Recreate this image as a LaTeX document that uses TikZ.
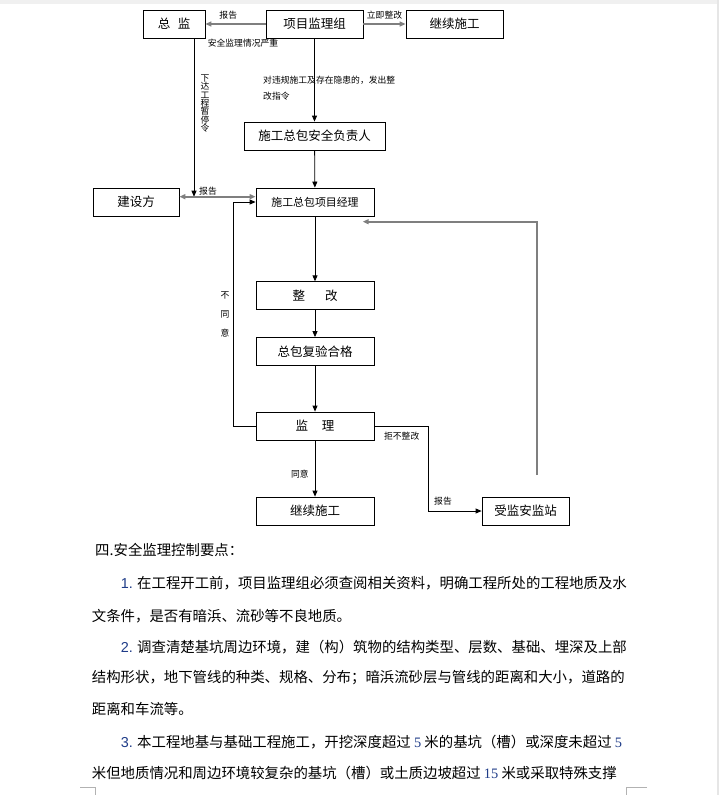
\documentclass[tikz,border=0pt]{standalone}
\usepackage{fontspec}
\newfontfamily\cjk{Noto Sans CJK SC}
\newfontfamily\numsans{Liberation Sans}
\newfontfamily\numserif{Liberation Serif}
\usetikzlibrary{arrows.meta,calc}
\usepackage{xcolor}
\definecolor{linegray}{HTML}{7F7F7F}
\definecolor{numblue}{HTML}{1F3C88}
\definecolor{pagegray}{HTML}{E6E6E6}

\begin{document}
\begin{tikzpicture}[x=1pt, y=-1pt, >={Triangle[length=6pt,width=5pt]},
    box/.style={draw, line width=0.8pt, inner sep=0pt, minimum height=28pt,
                font=\cjk\fontsize{12.5}{14}\selectfont},
    lbl/.style={inner sep=0pt, font=\cjk\fontsize{8.8}{10}\selectfont},
    conn/.style={line width=0.8pt, ->},
    gconn/.style={draw=linegray, line width=1.6pt, ->},
    body/.style={anchor=west, inner sep=0pt, font=\cjk\fontsize{14.4}{16}\selectfont}
  ]
  \useasboundingbox (0,0) rectangle (719,795);
  \fill[pagegray!60] (0,0) rectangle (719,4);
  \fill[pagegray] (716.5,0) rectangle (719,795);
  \draw[gray!60, line width=0.6pt] (80,787) -- (95,787) -- (95,795);
  \draw[gray!60, line width=0.6pt] (647,787) -- (626,787) -- (626,795);

  \node[box, minimum width=62pt] (zongjian) at (174,24) {总\hspace{0.6em}监};
  \node[box, minimum width=97pt] (xmjlz) at (314.5,24) {项目监理组};
  \node[box, minimum width=97pt] (jxsg1) at (454.5,24) {继续施工};
  \node[box, minimum width=141pt] (aqfzr) at (314.5,136) {施工总包安全负责人};
  \node[box, minimum width=86pt] (jsf) at (136,202) {建设方};
  \node[box, minimum width=118pt, font=\cjk\fontsize{10.9}{12}\selectfont] (xmjl) at (315,202) {施工总包项目经理};
  \node[box, minimum width=118pt, minimum height=27.5pt] (zhenggai) at (315,295.5) {整\hspace{1.6em}改};
  \node[box, minimum width=118pt] (fuyan) at (315,351.5) {总包复验合格};
  \node[box, minimum width=118pt] (jianli) at (315,426) {监\hspace{1.1em}理};
  \node[box, minimum width=118pt] (jxsg2) at (315,511) {继续施工};
  \node[box, minimum width=87pt] (ajz) at (525.5,511) {受监安监站};

  \coordinate (zjdown) at (194,196.7);
  \coordinate (ajzup) at (536.7,475);
  \coordinate (xmjlin) at (362.7,221.7);

  \draw[gconn] (xmjlz) -- (zongjian) node[lbl, pos=0.62, above=4pt] {报告};
  \draw[gconn] (xmjlz) -- (jxsg1) node[lbl, midway, above=4pt] {立即整改};
  \draw[conn] (zongjian.south -| zjdown) -- (zjdown);
  \draw[gconn, <->] ([yshift=5.3pt]jsf.east) -- ([yshift=5.3pt]xmjl.west);
  \draw[conn] (xmjlz) -- (aqfzr);
  \draw[conn] (aqfzr) -- (xmjl);
  \draw[conn] (xmjl) -- (zhenggai);
  \draw[conn] (zhenggai) -- (fuyan);
  \draw[conn] (fuyan) -- (jianli);
  \draw[conn] (jianli) -- (jxsg2) node[lbl, pos=0.6, left=6pt] {同意};
  \draw[conn] (jianli.west) -- ++(-22.4,0) |- (xmjl.west);
  \draw[conn] (jianli.east) -- ++(53.7,0) |- (ajz.west);
  \draw[gconn] (ajzup) |- (xmjlin);

  \node[lbl] (lbgjsf) at (208,191) {报告};
  \node[lbl] (lqkyz) at (243,43) {安全监理情况严重};
  \node[lbl, align=center, font=\cjk\fontsize{8.8}{8.3}\selectfont] (lztl) at (205,103.5)
    {下\\达\\工\\程\\暂\\停\\令};
  \node[lbl, anchor=west, align=left, font=\cjk\fontsize{8.8}{16}\selectfont] (lzgzl) at (263,88)
    {对违规施工及存在隐患的，发出整\\改指令};
  \node[lbl, align=center, font=\cjk\fontsize{8.8}{19}\selectfont] (lbty) at (225,314)
    {不\\同\\意};
  \node[lbl] (ljbzg) at (401.7,436) {拒不整改};
  \node[lbl] (lbgajz) at (443,501) {报告};

  \node[body] (t0) at (95,550) {四.安全监理控制要点：};
  \node[body] (t1) at (120.7,583) {{\numsans\color{numblue}1.} 在工程开工前，项目监理组必须查阅相关资料，明确工程所处的工程地质及水};
  \node[body] (t2) at (91.7,616) {文条件，是否有暗浜、流砂等不良地质。};
  \node[body] (t3) at (120.7,647) {{\numsans\color{numblue}2.} 调查清楚基坑周边环境，建（构）筑物的结构类型、层数、基础、埋深及上部};
  \node[body] (t4) at (91.7,678) {结构形状，地下管线的种类、规格、分布；暗浜流砂层与管线的距离和大小，道路的};
  \node[body] (t5) at (91.7,709) {距离和车流等。};
  \node[body] (t6) at (120.7,741.7) {{\numsans\color{numblue}3.} 本工程地基与基础工程施工，开挖深度超过 {\numserif\color{numblue}5} 米的基坑（槽）或深度未超过 {\numserif\color{numblue}5}};
  \node[body] (t7) at (91.7,772.7) {米但地质情况和周边环境较复杂的基坑（槽）或土质边坡超过 {\numserif\color{numblue}15} 米或采取特殊支撑};
\end{tikzpicture}
\end{document}
